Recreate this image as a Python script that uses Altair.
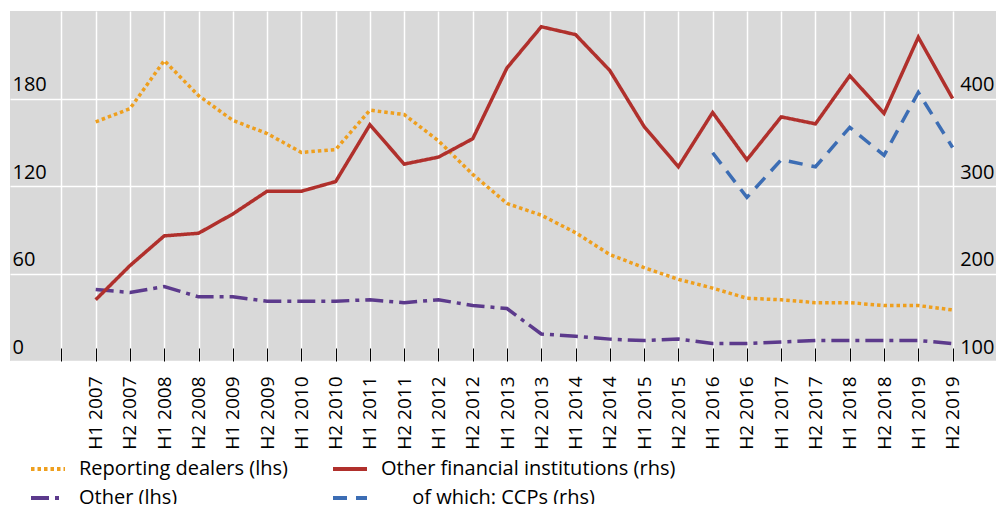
import altair as alt
import pandas as pd

# ---- data ----
periods = ["H1 2007", "H2 2007", "H1 2008", "H2 2008", "H1 2009", "H2 2009",
           "H1 2010", "H2 2010", "H1 2011", "H2 2011", "H1 2012", "H2 2012",
           "H1 2013", "H2 2013", "H1 2014", "H2 2014", "H1 2015", "H2 2015",
           "H1 2016", "H2 2016", "H1 2017", "H2 2017", "H1 2018", "H2 2018",
           "H1 2019", "H2 2019"]

reporting_dealers = [164, 173, 206, 182, 165, 156, 143, 145, 172, 169, 151, 128,
                     108, 100, 88, 73, 64, 56, 50, 43, 42, 40, 40, 38, 38, 35]
other = [49, 47, 51, 44, 44, 41, 41, 41, 42, 40, 42, 38,
         36, 18.5, 17, 15, 14, 15, 12, 12, 13, 14, 14, 14, 14, 12]
other_fin_inst = [170, 209, 243, 246, 268, 294, 294, 305, 370, 325, 333, 354,
                  435, 482, 473, 432, 368, 322, 384, 330, 379, 371, 426, 383, 470, 400]
ccp_periods = ["H1 2016", "H2 2016", "H1 2017", "H2 2017", "H1 2018", "H2 2018",
               "H1 2019", "H2 2019"]
ccps = [338, 287, 330, 322, 367, 335, 407, 344]

# legend fills column by column; the zero-width space keeps the indent from being trimmed
series_names = ["Reporting dealers (lhs)",
                "Other (lhs)",
                "Other financial institutions (rhs)",
                "\u200b" + "\u00a0" * 6 + "of which: CCPs (rhs)"]
series_colors = ["#EE9F1E", "#5C3A8C", "#B0302C", "#3C6DB4"]
series_dashes = [[3.5, 3], [18, 6, 4, 6], [1, 0], [14, 9]]

left_ticks = [0, 60, 120, 180]
right_ticks = [100, 200, 300, 400]

# ---- tables ----
lhs_df = pd.concat([
    pd.DataFrame({"period": periods, "value": reporting_dealers, "series": series_names[0]}),
    pd.DataFrame({"period": periods, "value": other, "series": series_names[1]}),
])
rhs_df = pd.concat([
    pd.DataFrame({"period": periods, "value": other_fin_inst, "series": series_names[2]}),
    pd.DataFrame({"period": ccp_periods, "value": ccps, "series": series_names[3]}),
])

pads = [" ", "  ", "   "]
x_domain = [pads[0], pads[1]] + periods + [pads[2]]

FONT = "Open Sans"

x_enc = alt.X(
    "period:N",
    scale=alt.Scale(type="point", domain=x_domain, padding=0.5),
    axis=alt.Axis(
        values=[pads[1]] + periods, title=None, labelAngle=270,
        labelAlign="right", labelBaseline="middle", labelFontSize=19,
        labelFont=FONT, labelColor="black", tickSize=13, tickColor="black",
        tickWidth=1, offset=-13, labelPadding=15, domain=False, grid=True,
        gridColor="white", gridWidth=1.5,
    ),
)

legend = alt.Legend(
    title=None, orient="none", legendX=19, legendY=439, columns=2,
    symbolType="stroke", symbolSize=1156, symbolStrokeWidth=4,
    labelFontSize=20, labelFont=FONT, labelColor="black", labelOffset=12,
    columnPadding=37, rowPadding=-14, labelLimit=600,
)

color_enc = alt.Color("series:N", scale=alt.Scale(domain=series_names, range=series_colors),
                      legend=legend)
dash_enc = alt.StrokeDash("series:N", scale=alt.Scale(domain=series_names, range=series_dashes),
                          legend=legend)

lhs = alt.Chart(lhs_df).mark_line(strokeWidth=3.5).encode(
    x=x_enc,
    y=alt.Y("value:Q", scale=alt.Scale(domain=[0, 240], nice=False),
            axis=alt.Axis(values=left_ticks, orient="left", title=None,
                          labelAlign="left", labelBaseline="alphabetic",
                          labelPadding=-2, labelOffset=-8, ticks=False, tickSize=0,
                          domain=False, labelFontSize=20, labelFont=FONT,
                          labelColor="black", grid=True, gridColor="white",
                          gridWidth=1.5)),
    color=color_enc,
    strokeDash=dash_enc,
)

rhs = alt.Chart(rhs_df).mark_line(strokeWidth=3.5).encode(
    x=x_enc,
    y=alt.Y("value:Q", scale=alt.Scale(domain=[100, 500], nice=False, zero=False),
            axis=alt.Axis(values=right_ticks, orient="right", title=None,
                          labelAlign="right", labelBaseline="alphabetic",
                          labelPadding=-10, labelOffset=-8, ticks=False, tickSize=0,
                          domain=False, labelFontSize=20, labelFont=FONT,
                          labelColor="black", grid=False)),
    color=color_enc,
    strokeDash=dash_enc,
)

chart = alt.layer(lhs, rhs).resolve_scale(y="independent").properties(
    width=994, height=350,
    padding={"left": 2, "top": 3, "right": -8, "bottom": -4},
).configure_view(fill="#D9D9D9", strokeWidth=0)

chart.save("out.html", embed_options={"renderer": "svg", "actions": False})
